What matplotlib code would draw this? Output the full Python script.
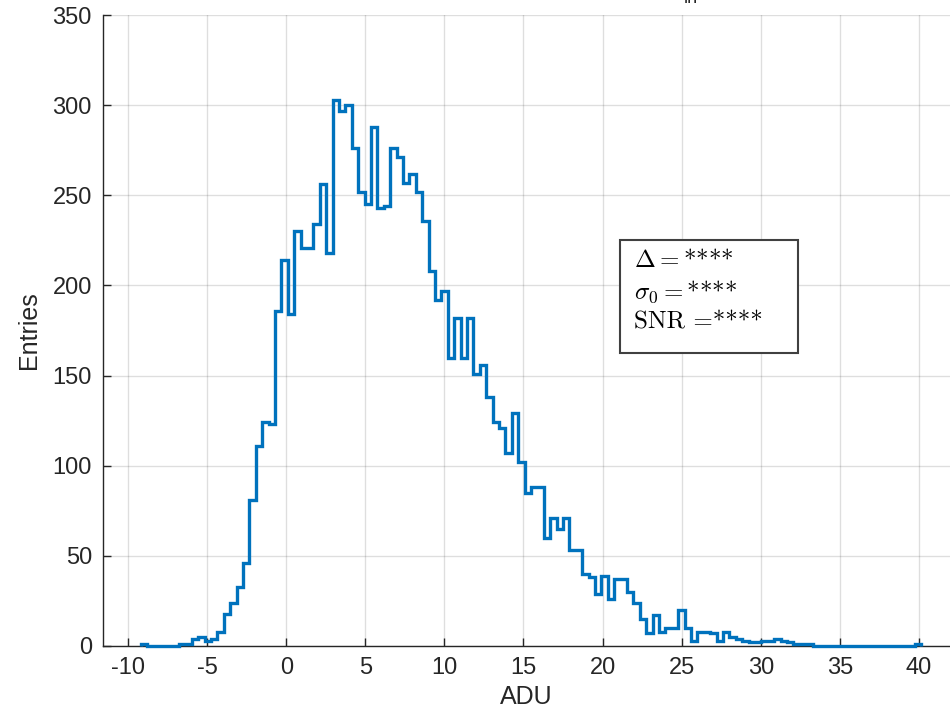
import numpy as np
import matplotlib
matplotlib.use("Agg")
import matplotlib.pyplot as plt
from matplotlib.patches import Rectangle

plt.rcParams['font.family'] = ['Liberation Sans', 'DejaVu Sans']
plt.rcParams['axes.unicode_minus'] = False
plt.rcParams['mathtext.fontset'] = 'cm'

# histogram of pixel values (ADU), stairs style
first_edge = -9.2
bin_width = 0.4045
counts = [1, 0, 0, 0, 0, 0, 1, 1, 4, 5,
          3, 4, 8, 18, 24, 33, 46, 81, 111, 124,
          123, 186, 214, 184, 230, 221, 221, 234, 256, 218,
          303, 297, 300, 276, 252, 245, 288, 243, 244, 276,
          271, 257, 262, 252, 236, 208, 192, 197, 160, 182,
          160, 182, 151, 156, 138, 124, 121, 107, 129, 102,
          85, 88, 88, 60, 71, 65, 71, 53, 53, 40,
          38, 29, 39, 26, 37, 37, 30, 24, 15, 7,
          17, 8, 10, 10, 20, 10, 3, 8, 8, 7,
          3, 8, 5, 4, 3, 2, 2, 3, 3, 4,
          3, 2, 1, 1, 1, 0, 0, 0, 0, 0,
          0, 0, 0, 0, 0, 0, 0, 0, 0, 0,
          0, 1]
edges = first_edge + bin_width * np.arange(len(counts) + 1)

xticks = [-10, -5, 0, 5, 10, 15, 20, 25, 30, 35, 40]
yticks = [0, 50, 100, 150, 200, 250, 300, 350]
stats_lines = [r"$\Delta =$****", r"$\sigma_0 =$****", "SNR =****"]

dark = '#262626'

fig = plt.figure(figsize=(9.5, 7.26), dpi=100)
ax = fig.add_axes([103/950, 80/726, 847/950, 631/726])

ax.stairs(counts, edges, color='#0072BD', linewidth=2.4, zorder=3, clip_on=False)

ax.set_xlim(-11.58, 41.96)
ax.set_ylim(0, 350)
ax.set_xticks(xticks)
ax.set_yticks(yticks)
ax.grid(True, color=dark, alpha=0.15, linewidth=1)
ax.set_axisbelow(True)

for s in ['top', 'right']:
    ax.spines[s].set_visible(False)
for s in ['left', 'bottom']:
    ax.spines[s].set_color(dark)
    ax.spines[s].set_linewidth(1)

ax.tick_params(direction='in', length=6, width=1, colors=dark, labelsize=17)
ax.tick_params(axis='x', pad=8)
ax.tick_params(axis='y', pad=8)
ax.set_xlabel('ADU', fontsize=18, color=dark, labelpad=4)
ax.set_ylabel('Entries', fontsize=18, color=dark, labelpad=8)

# stats box
ax.add_patch(Rectangle((0.610, 0.4643), 0.2106, 0.1791, transform=ax.transAxes,
                       facecolor='white', edgecolor='#404040', linewidth=1.5, zorder=4))
for i, line in enumerate(stats_lines):
    ax.text(0.627, 0.6117 - i * 0.0497, line, transform=ax.transAxes,
            family='cmr10', fontsize=18, va='center', ha='left', color='black', zorder=5)

# title cut off at the top of the image
fig.text(691/950, 1 - 3/726, 'in', fontsize=13, ha='center', va='baseline', color=dark)

fig.savefig('out.png', dpi=100)
